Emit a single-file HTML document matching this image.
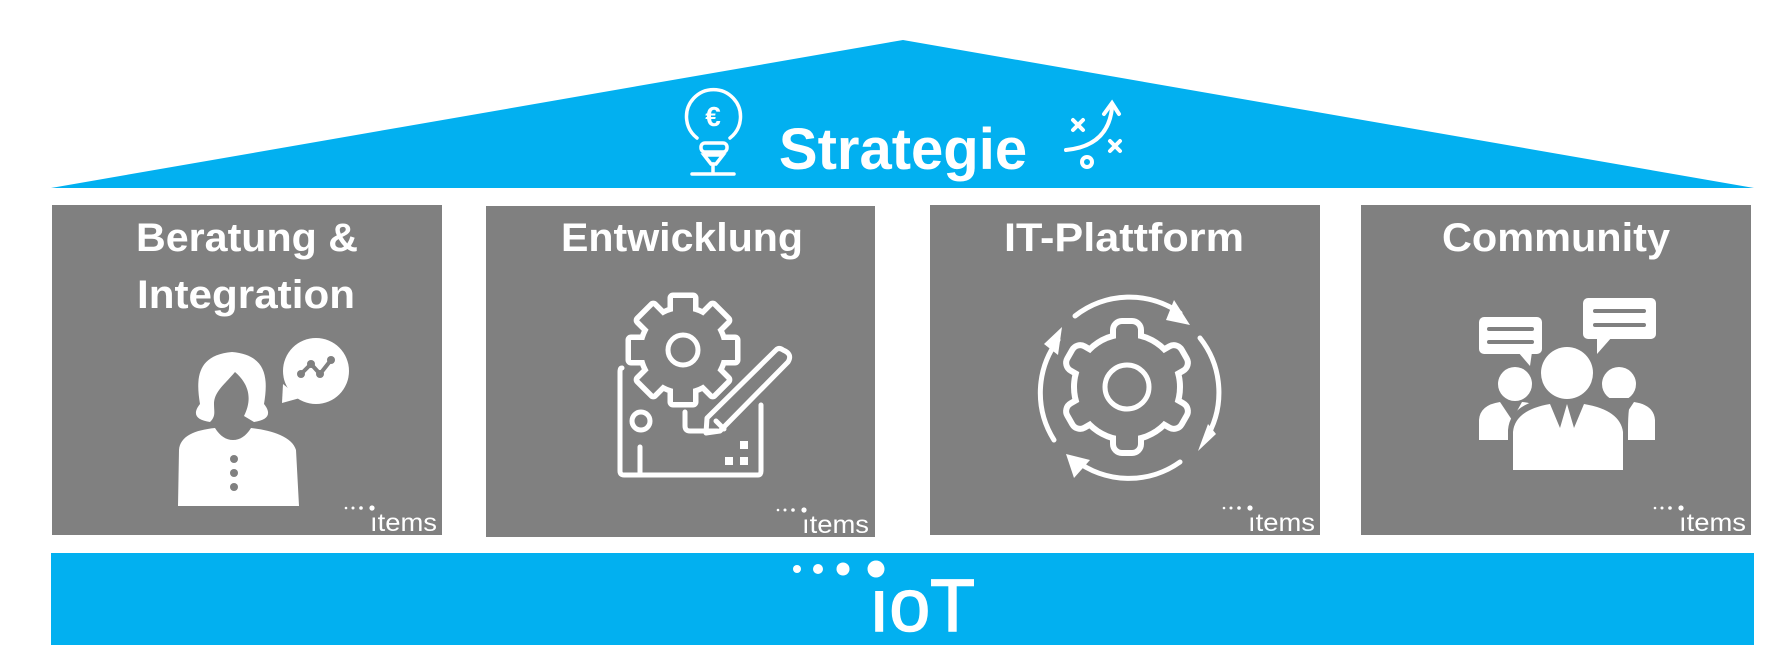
<!DOCTYPE html>
<html><head><meta charset="utf-8">
<style>
html,body{margin:0;padding:0;background:#fff;}
body{width:1777px;height:657px;overflow:hidden;position:relative;font-family:"Liberation Sans",sans-serif;}
svg{position:absolute;left:0;top:0;}
</style></head>
<body>
<svg width="1777" height="657" viewBox="0 0 1777 657" xmlns="http://www.w3.org/2000/svg">
<polygon points="903,40 1754,188 51,188" fill="#02b0f0"/>
<rect x="52" y="205" width="390" height="330" fill="#808080"/>
<rect x="486" y="206" width="389" height="331" fill="#808080"/>
<rect x="930" y="205" width="390" height="330" fill="#808080"/>
<rect x="1361" y="205" width="390" height="330" fill="#808080"/>
<rect x="51" y="553" width="1703" height="92" fill="#02b0f0"/>

<text x="903" y="169" text-anchor="middle" font-family="Liberation Sans, sans-serif" font-weight="bold" font-size="58" fill="#fff">Strategie</text>
<g fill="none" stroke="#fff" stroke-width="3.5" stroke-linecap="round">
  <path d="M697,138 A27,27 0 1 1 730,138"/>
  <text x="713" y="126" text-anchor="middle" font-size="28" font-weight="bold" fill="#fff" stroke="none" font-family="Liberation Sans, sans-serif">€</text>
  <rect x="701" y="143" width="26" height="9" rx="4"/>
  <path d="M704,155 L723,155 L716,164 L711,164 Z"/>
  <line x1="713" y1="164" x2="713" y2="173"/>
  <line x1="692" y1="174" x2="734" y2="174"/>
</g>
<g fill="none" stroke="#fff" stroke-width="4" stroke-linecap="round">
  <path d="M1066,150 Q1108,146 1112,108"/>
  <path d="M1104,114 L1112,103 L1119,114"/>
  <path d="M1073,120 l10,10 M1083,120 l-10,10"/>
  <path d="M1110,141 l10,10 M1120,141 l-10,10"/>
  <circle cx="1087" cy="162" r="5"/>
</g>

<g font-family="Liberation Sans, sans-serif" font-weight="bold" font-size="40" fill="#fff" text-anchor="middle">
  <text x="247" y="251" textLength="222" lengthAdjust="spacingAndGlyphs">Beratung &amp;</text>
  <text x="246" y="308" textLength="218" lengthAdjust="spacingAndGlyphs">Integration</text>
  <text x="682" y="251" textLength="242" lengthAdjust="spacingAndGlyphs">Entwicklung</text>
  <text x="1124" y="251" textLength="240" lengthAdjust="spacingAndGlyphs">IT-Plattform</text>
  <text x="1556" y="251" textLength="228" lengthAdjust="spacingAndGlyphs">Community</text>
</g>

<g font-family="Liberation Sans, sans-serif" font-size="25" fill="#fff">
  <g><text x="370" y="531" textLength="67" lengthAdjust="spacingAndGlyphs">ıtems</text>
  <circle cx="346" cy="508" r="1.3"/><circle cx="353" cy="508" r="1.5"/><circle cx="361" cy="508" r="1.8"/><circle cx="372" cy="508" r="2.6"/></g>
  <g transform="translate(432,2)"><text x="370" y="531" textLength="67" lengthAdjust="spacingAndGlyphs">ıtems</text>
  <circle cx="346" cy="508" r="1.3"/><circle cx="353" cy="508" r="1.5"/><circle cx="361" cy="508" r="1.8"/><circle cx="372" cy="508" r="2.6"/></g>
  <g transform="translate(878,0)"><text x="370" y="531" textLength="67" lengthAdjust="spacingAndGlyphs">ıtems</text>
  <circle cx="346" cy="508" r="1.3"/><circle cx="353" cy="508" r="1.5"/><circle cx="361" cy="508" r="1.8"/><circle cx="372" cy="508" r="2.6"/></g>
  <g transform="translate(1309,0)"><text x="370" y="531" textLength="67" lengthAdjust="spacingAndGlyphs">ıtems</text>
  <circle cx="346" cy="508" r="1.3"/><circle cx="353" cy="508" r="1.5"/><circle cx="361" cy="508" r="1.8"/><circle cx="372" cy="508" r="2.6"/></g>
</g>

<text x="869" y="631" font-family="Liberation Sans, sans-serif" font-size="74" fill="#fff" stroke="#fff" stroke-width="1.5" textLength="106" lengthAdjust="spacingAndGlyphs">ıoT</text>
<circle cx="797" cy="569" r="4" fill="#fff"/>
<circle cx="818" cy="569" r="5" fill="#fff"/>
<circle cx="843" cy="569" r="6.5" fill="#fff"/>
<circle cx="876" cy="569" r="8.5" fill="#fff"/>

<g fill="#fff">
  <path d="M210,422 C196,420 192,414 200,404 C196,380 196,355 232,352 C268,355 268,380 264,404 C272,414 268,420 254,422 L244,416 C252,400 250,385 235,372 C224,385 214,392 214,404 C214,412 216,416 210,422 Z"/>
  <path d="M178,506 L179,450 C180,436 195,430 215,428 C220,436 226,440 233,440 C240,440 246,436 251,428 C270,430 292,436 296,450 L299,506 Z"/>
  <circle cx="316" cy="371" r="33"/>
  <path d="M283,384 L282,403 L300,398 Z"/>
</g>
<g fill="#808080">
  <circle cx="234" cy="459" r="4"/><circle cx="234" cy="473" r="4"/><circle cx="234" cy="487" r="4"/>
</g>
<g fill="none" stroke="#808080" stroke-width="4" stroke-linecap="round" stroke-linejoin="round">
  <path d="M301,374 L311,364 L320,374 L331,360"/>
</g>
<g fill="#808080"><circle cx="301" cy="374" r="4"/><circle cx="311" cy="364" r="4"/><circle cx="320" cy="374" r="4"/><circle cx="331" cy="360" r="4"/></g>

<g>
  <g stroke="#fff" stroke-width="11" fill="#fff" stroke-linejoin="round">
    <circle cx="683" cy="350" r="40"/>
    <g transform="translate(683,350)">
      <rect x="-10" y="-52" width="20" height="24"/>
      <rect x="-10" y="-52" width="20" height="24" transform="rotate(45)"/>
      <rect x="-10" y="-52" width="20" height="24" transform="rotate(90)"/>
      <rect x="-10" y="-52" width="20" height="24" transform="rotate(135)"/>
      <rect x="-10" y="-52" width="20" height="24" transform="rotate(180)"/>
      <rect x="-10" y="-52" width="20" height="24" transform="rotate(225)"/>
      <rect x="-10" y="-52" width="20" height="24" transform="rotate(270)"/>
      <rect x="-10" y="-52" width="20" height="24" transform="rotate(315)"/>
    </g>
  </g>
  <g fill="#808080">
    <circle cx="683" cy="350" r="40"/>
    <g transform="translate(683,350)">
      <rect x="-10" y="-52" width="20" height="24"/>
      <rect x="-10" y="-52" width="20" height="24" transform="rotate(45)"/>
      <rect x="-10" y="-52" width="20" height="24" transform="rotate(90)"/>
      <rect x="-10" y="-52" width="20" height="24" transform="rotate(135)"/>
      <rect x="-10" y="-52" width="20" height="24" transform="rotate(180)"/>
      <rect x="-10" y="-52" width="20" height="24" transform="rotate(225)"/>
      <rect x="-10" y="-52" width="20" height="24" transform="rotate(270)"/>
      <rect x="-10" y="-52" width="20" height="24" transform="rotate(315)"/>
    </g>
  </g>
  <circle cx="683" cy="350" r="15" fill="none" stroke="#fff" stroke-width="5"/>
</g>
<g fill="none" stroke="#fff" stroke-width="5" stroke-linecap="round" stroke-linejoin="round">
  <path d="M622,368 Q620,368 620,372 L620,471 Q620,475 624,475 L758,475 Q761,475 761,471 L761,405"/>
  <circle cx="641" cy="421" r="9"/>
  <line x1="640" y1="447" x2="640" y2="473"/>
  <path d="M685,412 L685,426 Q685,431 690,431 L717,431"/>
  <path d="M783,350 Q793,354 788,362 L720,431 L706,433 L707,418 L776,350 Q779,347 783,350 Z"/>
  <line x1="716" y1="421" x2="724" y2="429"/>
</g>
<g fill="#fff"><rect x="740" y="441" width="8" height="8"/><rect x="725" y="457" width="8" height="8"/><rect x="740" y="457" width="8" height="8"/></g>

<g>
  <g stroke="#fff" stroke-width="12" fill="#fff" stroke-linejoin="round">
    <circle cx="1127" cy="387" r="50"/>
    <g transform="translate(1127,387)">
      <rect x="-11" y="-63" width="22" height="24" rx="6"/>
      <rect x="-11" y="-63" width="22" height="24" rx="6" transform="rotate(60)"/>
      <rect x="-11" y="-63" width="22" height="24" rx="6" transform="rotate(120)"/>
      <rect x="-11" y="-63" width="22" height="24" rx="6" transform="rotate(180)"/>
      <rect x="-11" y="-63" width="22" height="24" rx="6" transform="rotate(240)"/>
      <rect x="-11" y="-63" width="22" height="24" rx="6" transform="rotate(300)"/>
    </g>
  </g>
  <g fill="#808080">
    <circle cx="1127" cy="387" r="50"/>
    <g transform="translate(1127,387)">
      <rect x="-11" y="-63" width="22" height="24" rx="6"/>
      <rect x="-11" y="-63" width="22" height="24" rx="6" transform="rotate(60)"/>
      <rect x="-11" y="-63" width="22" height="24" rx="6" transform="rotate(120)"/>
      <rect x="-11" y="-63" width="22" height="24" rx="6" transform="rotate(180)"/>
      <rect x="-11" y="-63" width="22" height="24" rx="6" transform="rotate(240)"/>
      <rect x="-11" y="-63" width="22" height="24" rx="6" transform="rotate(300)"/>
    </g>
  </g>
  <circle cx="1127" cy="387" r="22" fill="none" stroke="#fff" stroke-width="5"/>
</g>
<g fill="none" stroke="#fff" stroke-width="5" stroke-linecap="round">
  <path d="M1075,316 A88,88 0 0 1 1180,313"/>
  <path d="M1200,338 A88,88 0 0 1 1205,440"/>
  <path d="M1180,462 A88,88 0 0 1 1075,460"/>
  <path d="M1054,440 A88,88 0 0 1 1058,340"/>
</g>
<g fill="#fff">
  <polygon points="1174,300 1190,325 1166,320"/>
  <polygon points="1216,434 1198,451 1208,424"/>
  <polygon points="1066,454 1090,460 1074,478"/>
  <polygon points="1062,327 1044,344 1058,355"/>
</g>

<g fill="#fff">
  <rect x="1479" y="317" width="63" height="37" rx="5"/>
  <polygon points="1518,352 1530,366 1532,352"/>
  <rect x="1583" y="298" width="73" height="41" rx="5"/>
  <polygon points="1597,337 1597,354 1612,337"/>
  <circle cx="1515" cy="384" r="17"/>
  <circle cx="1619" cy="384" r="17"/>
  <path d="M1479,440 L1479,420 Q1480,405 1500,402 L1512,420 L1522,402 Q1530,402 1540,408 L1540,440 Z"/>
  <path d="M1655,440 L1655,420 Q1654,405 1634,402 L1622,420 L1612,402 Q1604,402 1594,408 L1594,440 Z"/>
</g>
<g fill="#808080">
  <rect x="1487" y="327" width="47" height="4" rx="2"/>
  <rect x="1487" y="340" width="47" height="4" rx="2"/>
  <rect x="1593" y="309" width="53" height="4" rx="2"/>
  <rect x="1593" y="323" width="53" height="4" rx="2"/>
  <path d="M1508,472 L1508,430 Q1510,404 1548,398 L1632,398 Q1628,404 1628,430 L1628,472 Z"/>
  <circle cx="1567" cy="373" r="30"/>
</g>
<g fill="#fff">
  <circle cx="1567" cy="373" r="26"/>
  <path d="M1513,470 L1513,432 Q1515,410 1550,404 L1560,428 L1567,404 L1574,428 L1584,404 Q1620,410 1623,432 L1623,470 Z"/>
</g>
</svg>
</body></html>
